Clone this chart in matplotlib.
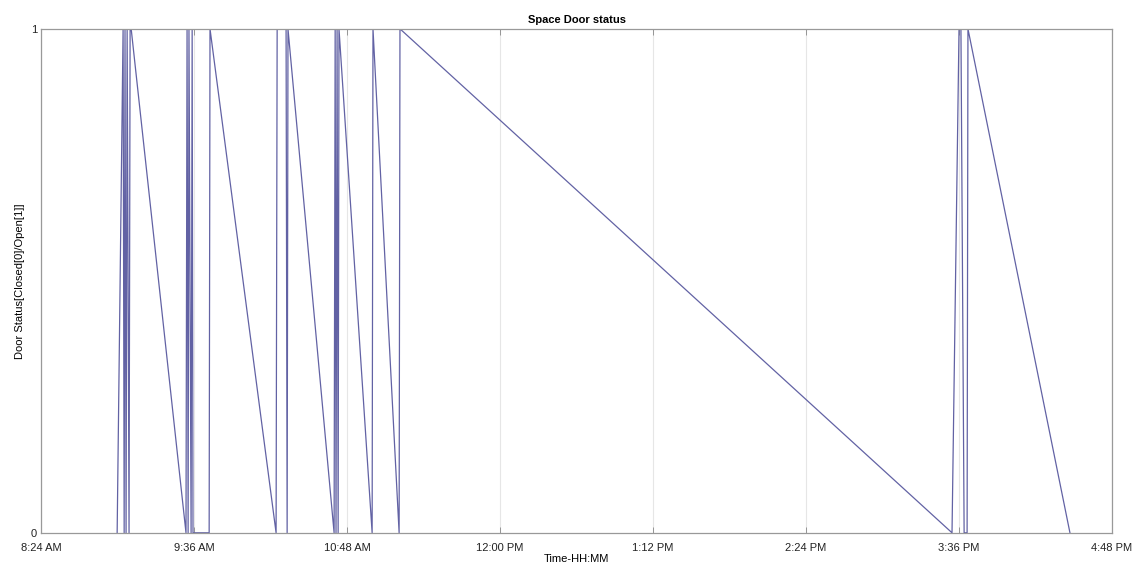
import pandas as pd
import matplotlib
matplotlib.use('Agg')
import matplotlib.pyplot as plt
import matplotlib.dates as mdates

plt.rcParams['font.family'] = ['Liberation Sans', 'DejaVu Sans']

# Door events (time of day, status 0 = closed / 1 = open)
times = ['08:59:48', '09:02:36', '09:03:06', '09:03:30', '09:04:00', '09:04:30',
         '09:05:24', '09:05:54', '09:06:24', '09:32:12', '09:32:42', '09:33:12',
         '09:33:36', '09:34:36', '09:35:06', '09:35:30', '09:43:06', '09:43:30',
         '10:14:36', '10:15:06', '10:19:18', '10:19:48', '10:20:12', '10:41:54',
         '10:42:24', '10:42:48', '10:43:18', '10:43:48', '10:44:12', '10:59:48',
         '11:00:12', '11:12:30', '11:12:54', '15:32:42', '15:36:00', '15:36:54',
         '15:38:24', '15:39:48', '15:40:12', '16:28:12']
status = [0, 1, 0, 1, 0, 1,
          0, 1, 1, 0, 1, 0,
          1, 0, 1, 0, 0, 1,
          0, 1, 1, 0, 1, 0,
          1, 0, 1, 0, 1, 0,
          1, 0, 1, 0, 1, 1,
          0, 0, 1, 0]

tick_times = ['08:24', '09:36', '10:48', '12:00', '13:12', '14:24', '15:36', '16:48']

day = '2017-01-01 '
t = pd.to_datetime([day + s for s in times])
ticks = pd.to_datetime([day + s for s in tick_times])

fig = plt.figure(figsize=(11.41, 5.65), dpi=100)
ax = fig.add_axes([0.036, 0.057, 0.9386, 0.892])

ax.plot(t, status, color='#6262a4', linewidth=0.9)

ax.set_xlim(ticks[0], ticks[-1])
ax.set_ylim(0, 1)
ax.set_xticks(ticks)
ax.xaxis.set_major_formatter(mdates.DateFormatter('%-I:%M %p'))
ax.set_yticks([0, 1])
ax.set_yticklabels(['0', '1'])

ax.grid(axis='x', color='#e6e6e6', linewidth=0.8)
ax.tick_params(axis='both', direction='in', length=4, width=0.6, color='#888888',
               labelsize=8, labelcolor='#222222', top=True, right=True, pad=3)
ax.tick_params(axis='x', pad=7)
for sp in ax.spines.values():
    sp.set_color('#999999')
    sp.set_linewidth(0.9)

ax.set_title('Space Door status', fontsize=8, fontweight='bold', pad=4)
ax.set_xlabel('Time-HH:MM', fontsize=8, labelpad=1)
ax.set_ylabel('Door Status[Closed[0]/Open[1]]', fontsize=8, labelpad=4)

fig.savefig('out.png', dpi=100)
